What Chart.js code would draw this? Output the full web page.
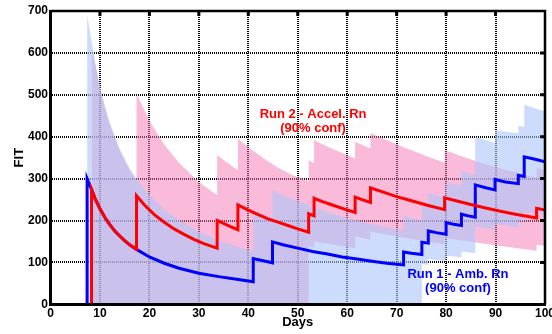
<!DOCTYPE html>
<html>
<head>
<meta charset="utf-8">
<script src="https://cdn.jsdelivr.net/npm/chart.js@4/dist/chart.umd.min.js"></script>
<style>
  body { margin: 0; background: #fff; }
  canvas { display: block; }
</style>
</head>
<body>
<canvas id="grafico" width="552" height="334"></canvas>
<script>
// ticks
const dayTicks = [0, 10, 20, 30, 40, 50, 60, 70, 80, 90, 100];
const fitTicks = [0, 100, 200, 300, 400, 500, 600, 700];

// Run 1 - ambient (blue): [day, FIT]
const run1Line = [
  [7.4, 0], [7.4, 300], [8.3, 274], [9, 253], [10, 228], [11, 207], [12, 190], [13, 175], [14, 163],
  [15, 152], [16, 142], [17.4, 131], [20, 113], [23, 98], [26, 86], [30, 74], [34, 66], [38, 59], [41, 54],
  [41, 109], [43, 104], [44.9, 99],
  [44.9, 149], [47, 142], [50, 134], [53, 126], [56, 120], [59, 113], [62, 108], [65, 103], [68, 98], [71.4, 94],
  [71.4, 125], [73, 122], [75.1, 119],
  [75.1, 148], [76.4, 146],
  [76.4, 175], [78, 171], [80, 167],
  [80, 195], [81.5, 191], [83.1, 188],
  [83.1, 215], [84.5, 211], [85.9, 208],
  [85.9, 285], [88, 278], [89.9, 273],
  [89.9, 298], [92, 292], [94.6, 288],
  [94.6, 308], [95.8, 305],
  [95.8, 352], [98, 346], [100, 340]
];
const run1Upper = [
  [7.4, 0], [7.4, 690], [8, 650], [9, 578], [10, 520], [11, 473], [12, 433], [14, 371], [16, 325], [18, 289],
  [20, 260], [23, 226], [26, 200], [30, 173], [34, 153], [38, 137], [41, 127],
  [41, 225], [44.9, 206],
  [44.9, 272], [48, 255], [52, 237], [56, 220], [60, 206], [64, 194], [68, 184], [71.4, 176],
  [71.4, 210], [75.1, 200],
  [75.1, 235], [76.4, 231],
  [76.4, 265], [80, 254],
  [80, 292], [83.1, 282],
  [83.1, 318], [85.9, 308],
  [85.9, 400], [89.9, 385],
  [89.9, 415], [94.6, 408],
  [94.6, 426], [95.8, 423],
  [95.8, 476], [100, 460]
];
const run1Lower = [
  [7.4, 0], [75.1, 0],
  [75.1, 96], [76.4, 94],
  [76.4, 108], [80, 102],
  [80, 116], [83.1, 112],
  [83.1, 126], [85.9, 122],
  [85.9, 185], [89.9, 178],
  [89.9, 192], [94.6, 184],
  [94.6, 200], [95.8, 198],
  [95.8, 222], [100, 214]
];

// Run 2 - accelerated (red)
const run2Line = [
  [8.3, 0], [8.3, 274], [9, 253], [10, 228], [11, 207], [12, 190], [13, 175], [14, 163], [15, 152], [16, 142], [17.4, 131],
  [17.4, 259], [19, 237], [21, 214], [23, 196], [25, 180], [27, 167], [29, 155], [31, 145], [33.7, 134],
  [33.7, 200], [35, 193], [36.5, 185], [37.9, 178],
  [37.9, 237], [40, 225], [42, 214], [44, 204], [46, 196], [48, 188], [50, 180], [52.2, 172],
  [52.2, 216], [53.3, 211],
  [53.3, 253], [55, 245], [57, 237], [59, 229], [61.6, 219],
  [61.6, 256], [63, 250], [64.7, 243],
  [64.7, 278], [67, 269], [70, 257], [73, 247], [76, 237], [79.7, 226],
  [79.7, 254], [82, 247], [85, 238], [88, 230], [91, 222], [94, 215], [98.3, 206],
  [98.3, 229], [100, 225]
];
const run2Upper = [
  [8.3, 0], [8.3, 612], [9, 575], [10, 515], [11, 468], [12, 428], [14, 366], [16, 320], [17.4, 294],
  [17.4, 503], [20, 438], [23, 381], [26, 337], [30, 292], [33.7, 260],
  [33.7, 356], [35.5, 340], [37.9, 320],
  [37.9, 396], [40, 375], [43, 349], [46, 326], [49, 308], [52.2, 294],
  [52.2, 344], [53.3, 337],
  [53.3, 392], [56, 376], [59, 361], [61.6, 348],
  [61.6, 388], [64.7, 372],
  [64.7, 409], [68, 392], [72, 372], [76, 354], [79.7, 338],
  [79.7, 368], [83, 354], [87, 338], [91, 324], [95, 312], [98.3, 302],
  [98.3, 325], [100, 320]
];
const run2Lower = [
  [8.3, 0], [52.2, 0],
  [52.2, 138], [53.3, 135],
  [53.3, 150], [57, 143], [61.6, 134],
  [61.6, 162], [64.7, 154],
  [64.7, 174], [70, 162], [75, 152], [79.7, 143],
  [79.7, 158], [85, 149], [90, 141], [98.3, 128],
  [98.3, 142], [100, 140]
];

const notes = [
  { lines: ['Run 2 - Accel. Rn', '(90% conf)'], x: 53.1, y: 454, color: '#ff0000' },
  { lines: ['Run 1 - Amb. Rn', '(90% conf)'], x: 82.4, y: 72, color: '#0000ff' }
];

const pts = arr => arr.map(p => ({ x: p[0], y: p[1] }));
const FONT = 'Liberation Sans, Arial, sans-serif';

function serie(data, extra) {
  return Object.assign({
    data: pts(data),
    pointRadius: 0,
    pointHoverRadius: 0,
    tension: 0,
    borderWidth: 0,
    borderColor: 'transparent',
    fill: false
  }, extra);
}

// moldura superior/direita com marcas para dentro + textos
const moldura = {
  id: 'moldura',
  afterDatasetsDraw(chart) {
    const { ctx, chartArea: a, scales } = chart;
    ctx.save();
    ctx.strokeStyle = '#000';
    ctx.lineWidth = 2.5;
    ctx.beginPath();
    ctx.moveTo(a.left, a.top);
    ctx.lineTo(a.right, a.top);
    ctx.lineTo(a.right, a.bottom);
    ctx.stroke();
    ctx.lineWidth = 3;
    ctx.beginPath();
    dayTicks.slice(1, -1).forEach(v => {
      const px = scales.x.getPixelForValue(v);
      ctx.moveTo(px, a.top);
      ctx.lineTo(px, a.top + 5);
    });
    fitTicks.slice(1, -1).forEach(v => {
      const py = scales.y.getPixelForValue(v);
      ctx.moveTo(a.right, py);
      ctx.lineTo(a.right - 5, py);
    });
    ctx.stroke();

    ctx.font = 'bold 13px ' + FONT;
    ctx.textAlign = 'center';
    ctx.textBaseline = 'middle';
    notes.forEach(n => {
      const px = scales.x.getPixelForValue(n.x);
      const py = scales.y.getPixelForValue(n.y);
      ctx.fillStyle = n.color;
      n.lines.forEach((t, i) => ctx.fillText(t, px, py + i * 14));
    });
    ctx.restore();
  }
};

const ctx = document.getElementById('grafico').getContext('2d');
new Chart(ctx, {
  type: 'line',
  data: {
    datasets: [
      serie(run2Line, { label: 'Run 2', borderColor: '#ff0000', borderWidth: 3 }),
      serie(run1Line, { label: 'Run 1', borderColor: '#0000ff', borderWidth: 3 }),
      serie(run1Upper, { label: 'Run 1 sup', fill: '+1', backgroundColor: 'rgba(172,197,250,0.6)' }),
      serie(run1Lower, { label: 'Run 1 inf' }),
      serie(run2Upper, { label: 'Run 2 sup', fill: '+1', backgroundColor: 'rgba(243,119,179,0.5)' }),
      serie(run2Lower, { label: 'Run 2 inf' })
    ]
  },
  options: {
    responsive: false,
    animation: false,
    layout: { padding: { top: 11, right: 7, left: 0, bottom: 0 } },
    plugins: {
      legend: { display: false },
      tooltip: { enabled: false },
      filler: { drawTime: 'beforeDatasetsDraw' }
    },
    scales: {
      x: {
        type: 'linear',
        min: 0,
        max: 100,
        afterBuildTicks: s => { s.ticks = dayTicks.map(v => ({ value: v })); },
        afterFit: s => { s.height = 29.7; s.paddingLeft = 0; s.paddingRight = 0; },
        ticks: { color: '#000', padding: 2, maxRotation: 0, autoSkip: false, font: { family: FONT, size: 12, weight: 'bold' } },
        grid: { color: '#000', lineWidth: 2, drawTicks: false },
        border: { display: true, color: '#000', width: 3, dash: [1, 1], z: 1 },
        title: { display: true, text: 'Days', color: '#000', padding: { top: 0, bottom: 4 }, font: { family: FONT, size: 13, weight: 'bold' } }
      },
      y: {
        min: 0,
        max: 700,
        afterBuildTicks: s => { s.ticks = fitTicks.map(v => ({ value: v })); },
        afterFit: s => { s.width = 50.5; s.paddingTop = 0; s.paddingBottom = 0; },
        ticks: { color: '#000', padding: 2.5, font: { family: FONT, size: 12, weight: 'bold' } },
        grid: { color: '#000', lineWidth: 2, drawTicks: false },
        border: { display: true, color: '#000', width: 3, dash: [1, 1], z: 1 },
        title: { display: true, text: 'FIT', color: '#000', padding: { top: 12, bottom: 0 }, font: { family: FONT, size: 13, weight: 'bold' } }
      }
    }
  },
  plugins: [moldura]
});
</script>
</body>
</html>
